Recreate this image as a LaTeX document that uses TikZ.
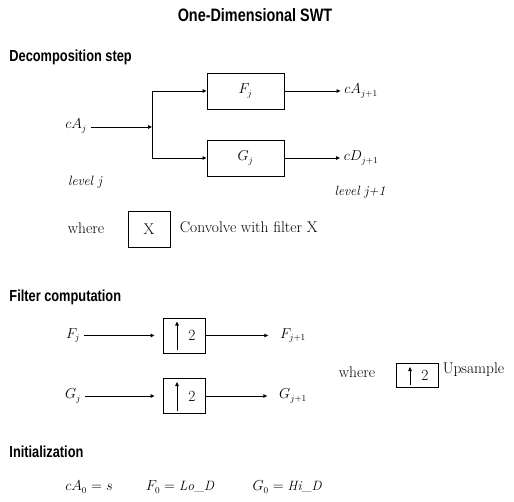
\documentclass[tikz,border=0pt]{standalone}
\usepackage{fontspec}
\usetikzlibrary{arrows.meta,positioning}
\newfontfamily\headfont[FakeStretch=0.8]{Liberation Sans}

\begin{document}
\begin{tikzpicture}[x=1pt, y=-1pt, line width=0.9pt,
    every node/.style={font=\fontsize{13.5}{15}\selectfont},
    % Estilos
    filterbox/.style={
        draw, minimum width=77pt, minimum height=36pt, inner sep=0pt
    },
    upbox/.style={
        draw, minimum width=42pt, minimum height=35pt, inner sep=0pt
    },
    heading/.style={
        anchor=west, inner sep=0pt, font=\headfont\bfseries\fontsize{16}{18}\selectfont
    },
    plain/.style={font=\fontsize{15.5}{17}\selectfont},
    lvl/.style={font=\fontsize{13.5}{15}\selectfont\itshape},
    flow/.style={-{Triangle[length=4pt,width=3.5pt]}}
]
\useasboundingbox (0,0) rectangle (514,502);

% =============================================
% TITULO
% =============================================
\node[font=\headfont\bfseries\fontsize{18}{20}\selectfont] (title) at (255,15)
    {One-Dimensional SWT};

% =============================================
% DECOMPOSITION STEP
% =============================================
\node[heading] (decomp) at (9,57) {Decomposition step};

\node[filterbox] (fbox) at (245.5,91) {$F_j$};
\node[filterbox] (gbox) at (245.5,158) {$G_j$};

\node (cAj) at (76,126) {$cA_j$};
\coordinate (split) at (152,127);
\node (cA1) at (361,91) {$cA_{j+1}$};
\node (cD1) at (361,158) {$cD_{j+1}$};

\draw[flow] (cAj.east |- split) -- (split);
\draw (split |- fbox.west) -- (split |- gbox.west);
\draw[flow] (split |- fbox.west) -- (fbox.west);
\draw[flow] (split |- gbox.west) -- (gbox.west);
\draw[flow] (fbox.east) -- (cA1.west);
\draw[flow] (gbox.east) -- (cD1.west);

\node[lvl] (lvlj) at (85,182) {level j};
\node[lvl] (lvlj1) at (360,192) {level j+1};

% leyenda del filtro
\node[plain] (where1) at (86,228) {where};
\node[plain, draw, minimum width=42pt, minimum height=36pt] (xbox) at (149,229) {X};
\node[plain, anchor=west] (conv) at (176,227) {Convolve with filter X};

% =============================================
% FILTER COMPUTATION
% =============================================
\node[heading] (filtcomp) at (9,297) {Filter computation};

\node (Fj) at (73,335.5) {$F_j$};
\node[upbox] (upF) at (184,335.5) {};
\node (F1) at (293,335.5) {$F_{j+1}$};

\node (Gj) at (73,396) {$G_j$};
\node[upbox] (upG) at (184,396) {};
\node (G1) at (293,396) {$G_{j+1}$};

\draw[flow, shorten >=8pt] (Fj.east) -- (upF.west);
\draw[flow, shorten >=8pt] (upF.east) -- (F1.west);
\draw[flow, shorten >=8pt] (Gj.east) -- (upG.west);
\draw[flow, shorten >=8pt] (upG.east) -- (G1.west);

% leyenda del upsample
\node[plain] (where2) at (357,372) {where};
\node[upbox, minimum height=24pt] (upW) at (417,375.5) {};
\node[plain, anchor=west] (ups) at (439,370) {Upsample};

% flechas y "2" dentro de las cajas
\foreach \b in {upF,upG,upW} {
    \draw[flow] ([xshift=-7pt,yshift=3pt]\b.south) -- ([xshift=-7pt,yshift=-4pt]\b.north);
    \node[plain] at ([xshift=8pt]\b.center) {2};
}

% =============================================
% INITIALIZATION
% =============================================
\node[heading] (init) at (9,452) {Initialization};

\node (eq1) at (89,487) {$cA_0 = s$};
\node (eq2) at (180,487) {$F_0 = \mathit{Lo\_D}$};
\node (eq3) at (287,487) {$G_0 = \mathit{Hi\_D}$};

\end{tikzpicture}
\end{document}
